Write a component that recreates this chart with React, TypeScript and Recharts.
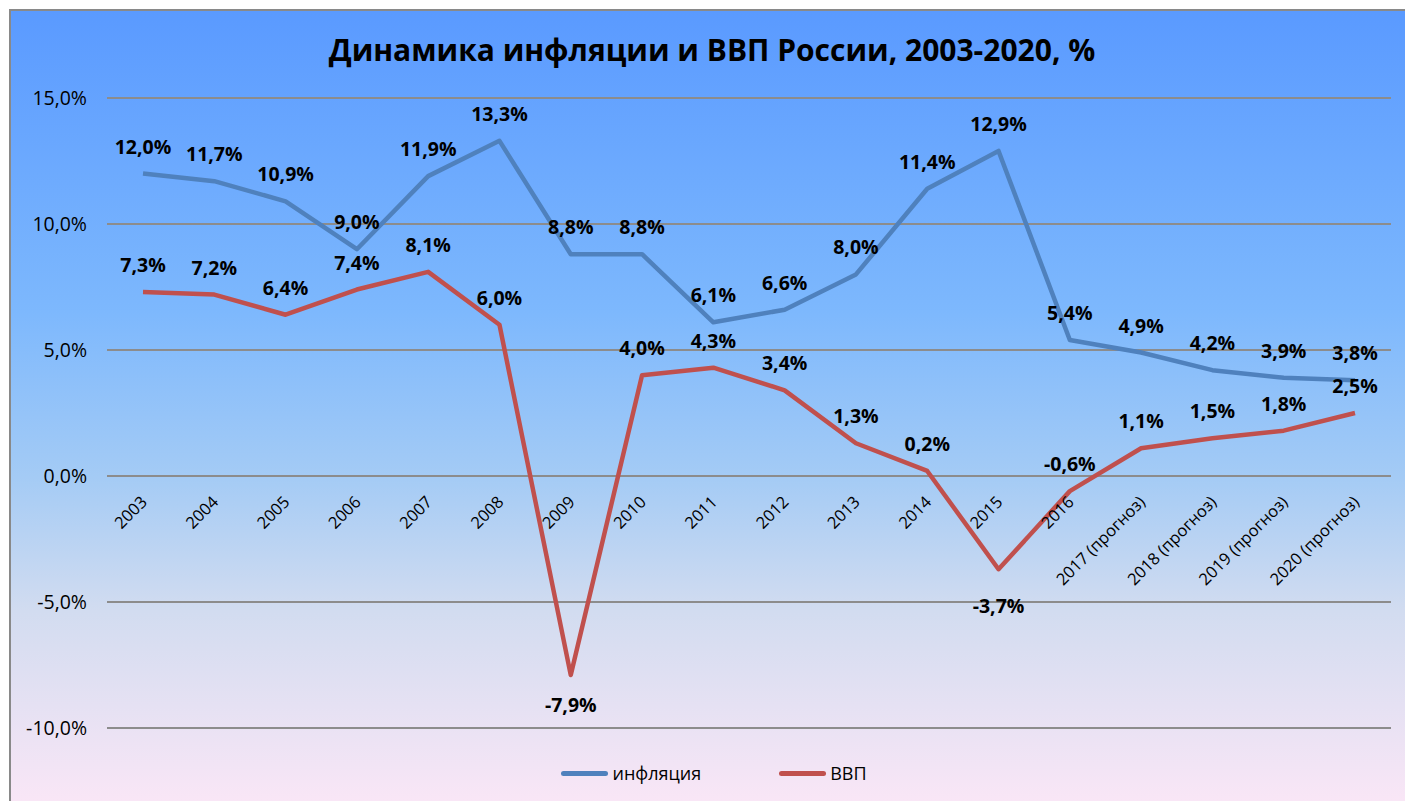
import { CartesianGrid, LabelList, Line, LineChart, XAxis, YAxis } from "recharts";

const categories = [
  "2003", "2004", "2005", "2006", "2007", "2008", "2009", "2010", "2011",
  "2012", "2013", "2014", "2015", "2016",
  "2017 (прогноз)", "2018 (прогноз)", "2019 (прогноз)", "2020 (прогноз)",
];
const inflation = [12.0, 11.7, 10.9, 9.0, 11.9, 13.3, 8.8, 8.8, 6.1, 6.6, 8.0, 11.4, 12.9, 5.4, 4.9, 4.2, 3.9, 3.8];
const gdp = [7.3, 7.2, 6.4, 7.4, 8.1, 6.0, -7.9, 4.0, 4.3, 3.4, 1.3, 0.2, -3.7, -0.6, 1.1, 1.5, 1.8, 2.5];
const yTicks = [-10, -5, 0, 5, 10, 15];

const data = categories.map((year, i) => ({ year, inflation: inflation[i], gdp: gdp[i] }));

// chart box
const W = 1394;
const H = 790;
const MARGIN = { top: 87, right: 14, bottom: 43, left: 36 };
const X_AXIS_H = 30;
const PLOT_H = H - MARGIN.top - MARGIN.bottom - X_AXIS_H;

const fmt = (v: number) => v.toFixed(1).replace(".", ",") + "%";

// labels that sit under the point instead of above it
const belowOffsets: Record<number, number> = { 6: 37, 12: 44 };

const makeLabel = (below: Record<number, number>) => (props: any) => {
  const { x, y, value, index } = props;
  const dy = below[index] !== undefined ? below[index] : -20;
  return (
    <text
      x={x}
      y={y + dy}
      textAnchor="middle"
      fontSize={19.5}
      fontWeight={700}
      fill="#000"
    >
      {fmt(value)}
    </text>
  );
};

// year labels are drawn along the zero line, rotated like Excel does
const YearTick = (props: any) => {
  const { x, y, payload } = props;
  const zeroY = y - (PLOT_H * 10) / 25;
  return (
    <g transform={`translate(${x + 1},${zeroY + 23})`}>
      <text textAnchor="end" dy="0.35em" transform="rotate(-45)" fontSize={16.5} fill="#000">
        {payload.value}
      </text>
    </g>
  );
};

const LegendItem = ({ color, label }: { color: string; label: string }) => (
  <div style={{ display: "flex", alignItems: "center" }}>
    <span
      style={{
        display: "inline-block",
        width: 47,
        height: 5,
        borderRadius: 3,
        background: color,
        marginRight: 4,
      }}
    />
    <span style={{ fontSize: 18, color: "#000" }}>{label}</span>
  </div>
);

export default function App() {
  return (
    <div
      style={{
        position: "fixed",
        left: 9,
        top: 9,
        width: 1396,
        height: 792,
        boxSizing: "border-box",
        borderLeft: "2px solid #898989",
        borderTop: "2px solid #898989",
        overflow: "hidden",
        background: "linear-gradient(180deg, #5a9aff 0%, #7db8fd 38%, #a4cbf5 59%, #d2dcf0 76%, #f9e6f6 100%)",
        fontFamily: "'Open Sans', sans-serif",
      }}
    >
      <div
        style={{
          position: "absolute",
          top: 21,
          left: 0,
          width: W,
          paddingLeft: 8,
          boxSizing: "border-box",
          textAlign: "center",
          fontSize: 30,
          fontWeight: 700,
          lineHeight: "36px",
          color: "#000",
        }}
      >
        Динамика инфляции и ВВП России, 2003-2020, %
      </div>

      <LineChart width={W} height={H} data={data} margin={MARGIN}>
        <CartesianGrid vertical={false} stroke="#8c8c8c" strokeWidth={2} />
        <XAxis
          dataKey="year"
          height={X_AXIS_H}
          padding={{ left: 36, right: 36 }}
          axisLine={false}
          tickLine={false}
          tickSize={0}
          tickMargin={0}
          interval={0}
          tick={<YearTick />}
        />
        <YAxis
          domain={[-10, 15]}
          ticks={yTicks}
          width={60}
          axisLine={false}
          tickLine={false}
          tickSize={0}
          tickMargin={20}
          tickFormatter={fmt}
          tick={{ fontSize: 19.5, fill: "#000" }}
        />
        <Line
          dataKey="inflation"
          name="инфляция"
          stroke="#4f81bd"
          strokeWidth={4.5}
          strokeLinejoin="round"
          dot={false}
          activeDot={false}
          isAnimationActive={false}
        >
          <LabelList dataKey="inflation" content={makeLabel({})} />
        </Line>
        <Line
          dataKey="gdp"
          name="ВВП"
          stroke="#c0504d"
          strokeWidth={4.5}
          strokeLinejoin="round"
          dot={false}
          activeDot={false}
          isAnimationActive={false}
        >
          <LabelList dataKey="gdp" content={makeLabel(belowOffsets)} />
        </Line>
      </LineChart>

      <div
        style={{
          position: "absolute",
          top: 750,
          left: 0,
          width: W,
          paddingLeft: 12,
          boxSizing: "border-box",
          height: 24,
          display: "flex",
          justifyContent: "center",
          alignItems: "center",
          gap: 78,
        }}
      >
        <LegendItem color="#4f81bd" label="инфляция" />
        <LegendItem color="#c0504d" label="ВВП" />
      </div>
    </div>
  );
}
